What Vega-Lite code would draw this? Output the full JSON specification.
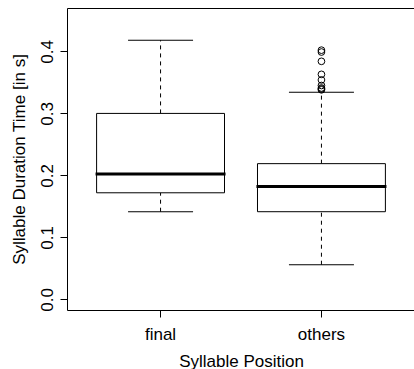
{
  "$schema": "https://vega.github.io/schema/vega-lite/v6.json",
  "width": 348,
  "height": 302,
  "autosize": {"type": "none"},
  "padding": {"left": 67, "top": 8, "right": 0, "bottom": 59},
  "background": "white",
  "config": {
    "view": {"stroke": "black", "strokeWidth": 1},
    "font": "Liberation Sans",
    "axis": {
      "grid": false,
      "domain": false,
      "tickColor": "black",
      "tickSize": 7,
      "labelColor": "black",
      "labelFont": "Liberation Sans",
      "labelFontSize": 17,
      "titleColor": "black",
      "titleFont": "Liberation Sans",
      "titleFontSize": 17,
      "titleFontWeight": "normal"
    }
  },
  "datasets": {
    "stats": [
      {"group": "final", "lower": 0.1415, "q1": 0.172, "median": 0.2025, "q3": 0.300, "upper": 0.418},
      {"group": "others", "lower": 0.056, "q1": 0.1415, "median": 0.182, "q3": 0.219, "upper": 0.334}
    ],
    "outliers": [
      {"group": "others", "value": 0.402},
      {"group": "others", "value": 0.399},
      {"group": "others", "value": 0.384},
      {"group": "others", "value": 0.363},
      {"group": "others", "value": 0.354},
      {"group": "others", "value": 0.345},
      {"group": "others", "value": 0.341},
      {"group": "others", "value": 0.3395},
      {"group": "others", "value": 0.338}
    ]
  },
  "encoding": {
    "x": {
      "field": "group",
      "type": "nominal",
      "scale": {"type": "band", "domain": ["final", "others"], "paddingInner": 0.205, "paddingOuter": 0.184},
      "axis": {"labelAngle": 0, "labelPadding": 9, "title": "Syllable Position", "titlePadding": 11}
    }
  },
  "layer": [
    {
      "data": {"name": "stats"},
      "mark": {"type": "rule", "color": "black", "strokeWidth": 1, "strokeDash": [4, 4]},
      "encoding": {
        "y": {
          "field": "lower",
          "type": "quantitative",
          "scale": {"domain": [-0.017, 0.47], "nice": false, "zero": false},
          "axis": {
            "values": [0, 0.1, 0.2, 0.3, 0.4],
            "format": ".1f",
            "labelAngle": -90,
            "labelAlign": "center",
            "labelBaseline": "alphabetic",
            "labelPadding": 8,
            "title": "Syllable Duration Time [in s]",
            "titlePadding": 10
          }
        },
        "y2": {"field": "q1"}
      }
    },
    {
      "data": {"name": "stats"},
      "mark": {"type": "rule", "color": "black", "strokeWidth": 1, "strokeDash": [4, 4]},
      "encoding": {
        "y": {"field": "q3", "type": "quantitative"},
        "y2": {"field": "upper"}
      }
    },
    {
      "data": {"name": "stats"},
      "mark": {"type": "tick", "color": "black", "thickness": 1, "size": 65, "opacity": 1},
      "encoding": {"y": {"field": "lower", "type": "quantitative"}}
    },
    {
      "data": {"name": "stats"},
      "mark": {"type": "tick", "color": "black", "thickness": 1, "size": 65, "opacity": 1},
      "encoding": {"y": {"field": "upper", "type": "quantitative"}}
    },
    {
      "data": {"name": "stats"},
      "mark": {"type": "bar", "fill": "white", "stroke": "black", "strokeWidth": 1},
      "encoding": {
        "y": {"field": "q1", "type": "quantitative"},
        "y2": {"field": "q3"}
      }
    },
    {
      "data": {"name": "stats"},
      "mark": {"type": "tick", "color": "black", "thickness": 3, "size": 130, "opacity": 1},
      "encoding": {"y": {"field": "median", "type": "quantitative"}}
    },
    {
      "data": {"name": "outliers"},
      "mark": {"type": "point", "shape": "circle", "filled": false, "stroke": "black", "strokeWidth": 1, "size": 45, "opacity": 1},
      "encoding": {"y": {"field": "value", "type": "quantitative"}}
    }
  ]
}
